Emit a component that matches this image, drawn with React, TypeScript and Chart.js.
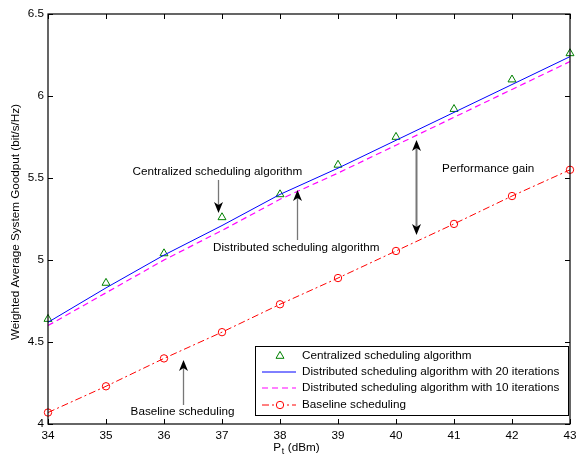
import { useEffect, useRef } from "react";
import { Chart, registerables } from "chart.js";
Chart.register(...registerables);

const powerDbm = [34, 35, 36, 37, 38, 39, 40, 41, 42, 43];
const centralized = [4.64, 4.86, 5.04, 5.26, 5.4, 5.58, 5.75, 5.92, 6.1, 6.26];
const distributed20 = [4.62, 4.83, 5.03, 5.21, 5.4, 5.56, 5.73, 5.9, 6.07, 6.24];
const distributed10 = [4.6, 4.8, 5.0, 5.18, 5.37, 5.53, 5.7, 5.87, 6.04, 6.21];
const baseline = [4.07, 4.23, 4.4, 4.56, 4.73, 4.89, 5.055, 5.22, 5.39, 5.55];
const seriesLabels = [
  "Centralized scheduling algorithm",
  "Distributed scheduling algorithm with 20 iterations",
  "Distributed scheduling algorithm with 10 iterations",
  "Baseline scheduling",
];
const yTitle = "Weighted Average System Goodput (bit/s/Hz)";
const xTitleMain = "P";
const xTitleSub = "t";
const xTitleRest = " (dBm)";

// annotations in data coordinates
const textNotes = [
  { text: "Centralized scheduling algorithm", x: 36.92, y: 5.537 },
  { text: "Distributed scheduling algorithm", x: 38.28, y: 5.073 },
  { text: "Performance gain", x: 41.59, y: 5.555 },
  { text: "Baseline scheduling", x: 36.32, y: 4.073 },
];
const arrowNotes = [
  { x: 36.93, from: 5.488, to: 5.287, double: false },
  { x: 38.29, from: 5.122, to: 5.427, double: false },
  { x: 36.33, from: 4.116, to: 4.39, double: false },
  { x: 40.345, from: 5.732, to: 5.152, double: true },
];

const FONT = "'Liberation Sans', Arial, Helvetica, sans-serif";
const FS = 11.7;
const GREEN = "#008000";
const BLUE = "#0000ff";
const MAGENTA = "#ff00ff";
const RED = "#ff0000";

function head(ctx: CanvasRenderingContext2D, x: number, tipY: number, dir: number) {
  const L = 11, W = 4.5, N = 8;
  ctx.beginPath();
  ctx.moveTo(x, tipY);
  ctx.lineTo(x - W, tipY - dir * L);
  ctx.lineTo(x, tipY - dir * N);
  ctx.lineTo(x + W, tipY - dir * L);
  ctx.closePath();
  ctx.fillStyle = "#000";
  ctx.fill();
}

const overlay = {
  id: "overlay",
  afterDraw(chart: any) {
    const { ctx, chartArea: a, scales } = chart;
    const xs = scales.x, ys = scales.y;
    ctx.save();
    ctx.strokeStyle = "#000";
    ctx.lineWidth = 1.2;
    ctx.strokeRect(a.left, a.top, a.right - a.left, a.bottom - a.top);
    ctx.lineWidth = 1;
    const tl = 5;
    ctx.beginPath();
    xs.ticks.forEach((t: any) => {
      const px = Math.round(xs.getPixelForValue(t.value)) + 0.5;
      ctx.moveTo(px, a.bottom); ctx.lineTo(px, a.bottom - tl);
      ctx.moveTo(px, a.top); ctx.lineTo(px, a.top + tl);
    });
    ys.ticks.forEach((t: any) => {
      const py = Math.round(ys.getPixelForValue(t.value)) + 0.5;
      ctx.moveTo(a.left, py); ctx.lineTo(a.left + tl, py);
      ctx.moveTo(a.right, py); ctx.lineTo(a.right - tl, py);
    });
    ctx.stroke();

    ctx.fillStyle = "#000";
    ctx.font = `${FS}px ${FONT}`;
    ctx.textAlign = "center";
    ctx.textBaseline = "middle";
    textNotes.forEach((n) => {
      ctx.fillText(n.text, xs.getPixelForValue(n.x), ys.getPixelForValue(n.y));
    });
    arrowNotes.forEach((n) => {
      const px = Math.round(xs.getPixelForValue(n.x)) + 0.5;
      const y1 = ys.getPixelForValue(n.from);
      const y2 = ys.getPixelForValue(n.to);
      const dir = y2 > y1 ? 1 : -1;
      ctx.strokeStyle = "#777";
      ctx.lineWidth = n.double ? 2 : 1.3;
      ctx.beginPath();
      ctx.moveTo(px, n.double ? y1 + dir * 6 : y1);
      ctx.lineTo(px, y2 - dir * 6);
      ctx.stroke();
      head(ctx, px, y2, dir);
      if (n.double) head(ctx, px, y1, -dir);
    });

    ctx.fillStyle = "#000";
    ctx.font = `${FS}px ${FONT}`;
    ctx.textAlign = "left";
    ctx.textBaseline = "alphabetic";
    const base = a.bottom + 27;
    const cx = (a.left + a.right) / 2;
    const wP = ctx.measureText(xTitleMain).width;
    ctx.font = `${FS * 0.75}px ${FONT}`;
    const wS = ctx.measureText(xTitleSub).width;
    ctx.font = `${FS}px ${FONT}`;
    const wR = ctx.measureText(xTitleRest).width;
    const sx = cx - 13 - (wP + wS + wR) / 2;
    ctx.fillText(xTitleMain, sx, base);
    ctx.font = `${FS * 0.75}px ${FONT}`;
    ctx.fillText(xTitleSub, sx + wP + 0.5, base + 3);
    ctx.font = `${FS}px ${FONT}`;
    ctx.fillText(xTitleRest, sx + wP + wS + 1, base);

    ctx.save();
    ctx.translate(16, (a.top + a.bottom) / 2 + 3);
    ctx.rotate(-Math.PI / 2);
    ctx.textAlign = "center";
    ctx.textBaseline = "middle";
    ctx.fillText(yTitle, 0, 0);
    ctx.restore();

    const bx = a.right - 315, by = a.bottom - 78, bw = 313, bh = 69;
    ctx.fillStyle = "#fff";
    ctx.fillRect(bx, by, bw, bh);
    ctx.strokeStyle = "#000";
    ctx.lineWidth = 1;
    ctx.strokeRect(Math.round(bx) + 0.5, Math.round(by) + 0.5, bw, bh);
    const rowY = [by + 10, by + 26, by + 42, by + 59];
    const lx0 = bx + 7, lx1 = bx + 41, mx = bx + 25, tx = bx + 47;
    ctx.font = `${FS}px ${FONT}`;
    ctx.textAlign = "left";
    ctx.textBaseline = "middle";
    const r = 4.6;
    ctx.strokeStyle = GREEN;
    ctx.lineWidth = 1;
    ctx.beginPath();
    ctx.moveTo(mx, rowY[0] - r);
    ctx.lineTo(mx + r * 0.866, rowY[0] + r / 2);
    ctx.lineTo(mx - r * 0.866, rowY[0] + r / 2);
    ctx.closePath();
    ctx.stroke();
    ctx.strokeStyle = BLUE;
    ctx.beginPath(); ctx.moveTo(lx0, rowY[1]); ctx.lineTo(lx1, rowY[1]); ctx.stroke();
    ctx.strokeStyle = MAGENTA;
    ctx.lineWidth = 1.2;
    ctx.setLineDash([6, 4]);
    ctx.beginPath(); ctx.moveTo(lx0, rowY[2]); ctx.lineTo(lx1, rowY[2]); ctx.stroke();
    ctx.strokeStyle = RED;
    ctx.lineWidth = 1;
    ctx.setLineDash([7, 3, 2, 3]);
    ctx.beginPath(); ctx.moveTo(lx0, rowY[3]); ctx.lineTo(lx1, rowY[3]); ctx.stroke();
    ctx.setLineDash([]);
    ctx.fillStyle = "#fff";
    ctx.beginPath(); ctx.arc(mx, rowY[3], 3.7, 0, Math.PI * 2); ctx.fill(); ctx.stroke();
    ctx.fillStyle = "#000";
    seriesLabels.forEach((s, i) => ctx.fillText(s, tx, rowY[i]));
    ctx.restore();
  },
};

export default function App() {
  const ref = useRef<HTMLCanvasElement>(null);
  useEffect(() => {
    document.body.style.margin = "0";
    const pts = (arr: number[]) => powerDbm.map((x, i) => ({ x, y: arr[i] }));
    const chart = new Chart(ref.current!, {
      type: "line",
      data: {
        datasets: [
          {
            label: seriesLabels[1], data: pts(distributed20), borderColor: BLUE, borderWidth: 1,
            pointRadius: 0, fill: false, tension: 0, clip: false,
          },
          {
            label: seriesLabels[2], data: pts(distributed10), borderColor: MAGENTA, borderWidth: 1.2,
            borderDash: [6, 4], pointRadius: 0, fill: false, tension: 0, clip: false,
          },
          {
            label: seriesLabels[3], data: pts(baseline), borderColor: RED, borderWidth: 1,
            borderDash: [7, 3, 2, 3], pointRadius: 3.7, pointStyle: "circle",
            pointBorderColor: RED, pointBackgroundColor: "rgba(0,0,0,0)", pointBorderWidth: 1,
            fill: false, tension: 0, clip: false,
          },
          {
            label: seriesLabels[0], data: pts(centralized), showLine: false, borderColor: GREEN,
            pointRadius: 4.6, pointStyle: "triangle", pointBorderColor: GREEN,
            pointBackgroundColor: "rgba(0,0,0,0)", pointBorderWidth: 1, clip: false,
          },
        ],
      },
      options: {
        animation: false,
        responsive: false,
        events: [],
        layout: { padding: { top: 14, right: 6, left: 0, bottom: 0 } },
        plugins: { legend: { display: false }, tooltip: { enabled: false }, title: { display: false } },
        scales: {
          x: {
            type: "linear", min: 34, max: 43,
            grid: { display: false, drawTicks: false },
            border: { display: false },
            ticks: { stepSize: 1, color: "#000", padding: 5, font: { family: FONT, size: FS }, maxRotation: 0 },
            afterFit: (s: any) => { s.height = 33; s.paddingLeft = 0; s.paddingRight = 0; },
          },
          y: {
            type: "linear", min: 4, max: 6.5,
            grid: { display: false, drawTicks: false },
            border: { display: false },
            ticks: {
              stepSize: 0.5, color: "#000", padding: 4, font: { family: FONT, size: FS },
              callback: (v: any) => String(Number(v)),
            },
            afterFit: (s: any) => { s.width = 48; s.paddingTop = 0; s.paddingBottom = 0; },
          },
        },
      },
      plugins: [overlay],
    });
    return () => chart.destroy();
  }, []);
  return (
    <div style={{ width: 576, height: 457 }}>
      <canvas ref={ref} width={576} height={457} style={{ display: "block" }} />
    </div>
  );
}
